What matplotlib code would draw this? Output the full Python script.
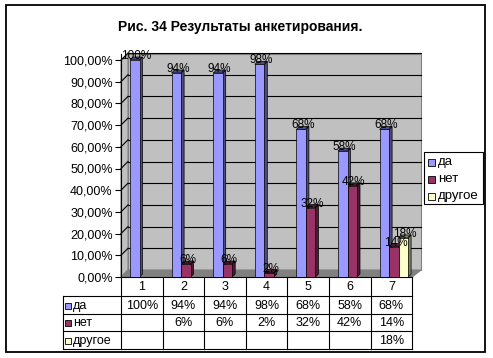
import matplotlib
matplotlib.use("Agg")
import matplotlib.pyplot as plt
from matplotlib.patches import Polygon, Rectangle
import numpy as np

plt.rcParams['font.family'] = ['Liberation Sans', 'DejaVu Sans']

title = "Рис. 34 Результаты анкетирования."
categories = ["1", "2", "3", "4", "5", "6", "7"]
series_names = ["да", "нет", "другое"]
da = [100, 94, 94, 98, 68, 58, 68]
net = [None, 6, 6, 2, 32, 42, 14]
drugoe = [None, None, None, None, None, None, 18]
series = [da, net, drugoe]
colors = ["#9999FF", "#993366", "#FFFFCC"]
side_colors = ["#4D4D80", "#4D1A33", "#80806A"]
yticks = list(range(0, 101, 10))

W, H = 493, 358
fig = plt.figure(figsize=(W / 100, H / 100), dpi=100)

# overlay in pixel coords
ov = fig.add_axes([0, 0, 1, 1], zorder=0)
ov.set_xlim(0, W)
ov.set_ylim(H, 0)
ov.axis('off')

# geometry (pixels)
L, R, B, T = 121, 421, 277, 54
colw = 41.6
depth = 7
x_end = L + colw * len(categories)

# outer border
ov.add_patch(Rectangle((6, 5), 479, 347, fill=False, ec='black', lw=1.3))

# walls / floor
ov.add_patch(Polygon([(L + depth, T), (R, T), (R, B - depth), (L + depth, B - depth)],
                     closed=True, fc='#C0C0C0', ec='#808080', lw=0.8))
ov.add_patch(Polygon([(L, T + depth), (L + depth, T), (L + depth, B - depth), (L, B)],
                     closed=True, fc='#C0C0C0', ec='#808080', lw=0.8))
ov.add_patch(Polygon([(L, B), (x_end, B), (R, B - depth), (L + depth, B - depth)],
                     closed=True, fc='#808080', ec='#808080', lw=0.8))

# title
ov.text(240, 27, title, ha='center', va='center', fontsize=10, fontweight='bold')

# main axes
ax = fig.add_axes([L / W, (H - B) / H, (R - L) / W, (B - T) / H], zorder=1)
ax.patch.set_alpha(0)
ymax = (B - T) / 2.17
ax.set_ylim(0, ymax)
ax.set_xlim(-0.5, -0.5 + (R - L) / colw)
for s in ['top', 'right', 'bottom']:
    ax.spines[s].set_visible(False)
ax.spines['left'].set_linewidth(0.8)
ax.set_xticks([])
ax.set_yticks(yticks)
ax.set_yticklabels([f"{v},00%" for v in yticks], fontsize=9)
ax.tick_params(axis='y', length=4, width=0.8, pad=2)

# gridlines on back wall
px_x = 1.0 / colw
px_y = ymax / (B - T)
x0 = -0.5 + depth * px_x
x1 = -0.5 + (R - L) / colw
for v in yticks[1:]:
    yy = v + depth * px_y
    ax.plot([x0, x1], [yy, yy], color='black', lw=0.8, zorder=1, clip_on=False)
    ax.plot([-0.5, x0], [v, yy], color='black', lw=0.8, zorder=1, clip_on=False)

# bars
bw = 9.5 / colw
offsets = [-0.5 + 9 / colw + bw / 2 + i * bw for i in range(3)]
d = 3 * px_x
dd = 3 * px_y
xs = np.arange(len(categories))
for si, vals in enumerate(series):
    for ci, v in enumerate(vals):
        if v is None:
            continue
        c = xs[ci] + offsets[si]
        ax.bar(c, v, width=bw, color=colors[si], edgecolor='black', linewidth=0.5, zorder=3)
        xr = c + bw / 2
        ax.add_patch(Polygon([(xr, 0), (xr + d, dd), (xr + d, v + dd), (xr, v)],
                             closed=True, fc=side_colors[si], ec='black', lw=0.5, zorder=2))
        ax.add_patch(Polygon([(c - bw / 2, v), (xr, v), (xr + d, v + dd), (c - bw / 2 + d, v + dd)],
                             closed=True, fc=side_colors[si], ec='black', lw=0.5, zorder=2))
        ax.text(c + 0.04, v + 4 * px_y, f"{v}%", ha='center', va='center', fontsize=8.5, zorder=5)

# legend
ov.add_patch(Rectangle((424, 152), 59, 52, fill=True, fc='white', ec='black', lw=0.8))
for i, name in enumerate(series_names):
    y = 162 + i * 17
    ov.add_patch(Rectangle((428, y - 3.5), 7, 7, fc=colors[i], ec='black', lw=0.6))
    ov.text(438, y, name, ha='left', va='center', fontsize=9.5)

# data table
rows_y = [277, 296, 314, 331, 349]
tl = 63
ov.plot([L, x_end], [rows_y[0]] * 2, color='black', lw=0.8)
for y in rows_y[1:]:
    ov.plot([tl, x_end], [y, y], color='black', lw=0.8)
ov.plot([tl, tl], [rows_y[1], rows_y[-1]], color='black', lw=0.8)
for i in range(len(categories) + 1):
    x = L + i * colw
    ov.plot([x, x], [rows_y[0], rows_y[-1]], color='black', lw=0.8)
for i, cat in enumerate(categories):
    ov.text(L + (i + 0.5) * colw, (rows_y[0] + rows_y[1]) / 2 + 1, cat,
            ha='center', va='center', fontsize=9)
for si, vals in enumerate(series):
    yc = (rows_y[si + 1] + rows_y[si + 2]) / 2 + 1
    ov.add_patch(Rectangle((65, yc - 3.5), 6, 6, fc=colors[si], ec='black', lw=0.6))
    ov.text(73, yc, series_names[si], ha='left', va='center', fontsize=9)
    for ci, v in enumerate(vals):
        if v is None:
            continue
        ov.text(L + (ci + 0.5) * colw, yc, f"{v}%", ha='center', va='center', fontsize=9)

fig.savefig("out.png", dpi=100)
